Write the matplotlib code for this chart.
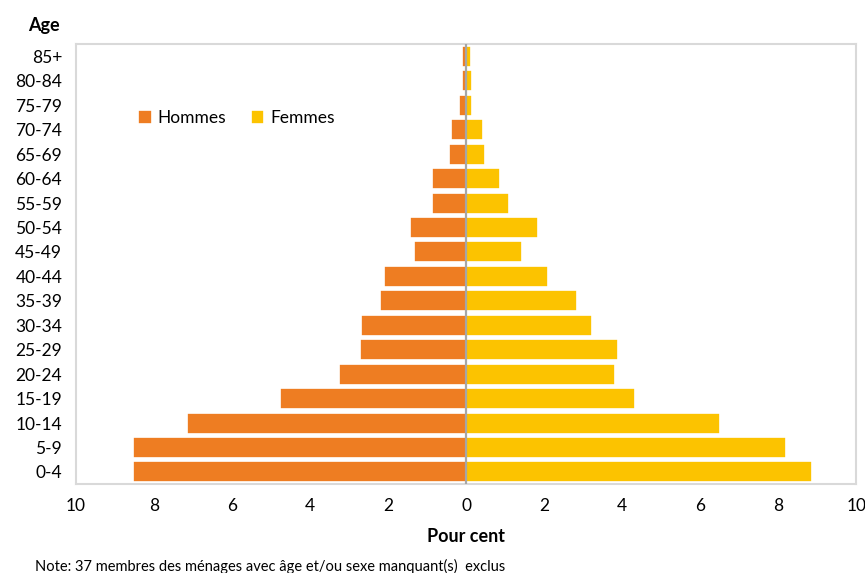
import matplotlib
matplotlib.use("Agg")
import matplotlib.pyplot as plt
import numpy as np

plt.rcParams['font.family'] = ['Lato', 'DejaVu Sans']

age_groups = ["0-4", "5-9", "10-14", "15-19", "20-24", "25-29", "30-34", "35-39",
              "40-44", "45-49", "50-54", "55-59", "60-64", "65-69", "70-74",
              "75-79", "80-84", "85+"]
hommes = [8.55, 8.55, 7.15, 4.78, 3.27, 2.72, 2.69, 2.21, 2.12, 1.35, 1.44,
          0.88, 0.88, 0.45, 0.40, 0.18, 0.10, 0.10]
femmes = [8.86, 8.20, 6.51, 4.33, 3.82, 3.89, 3.23, 2.85, 2.10, 1.44, 1.85,
          1.10, 0.87, 0.47, 0.43, 0.15, 0.15, 0.11]
x_ticks = [-10, -8, -6, -4, -2, 0, 2, 4, 6, 8, 10]
x_tick_labels = ["10", "8", "6", "4", "2", "0", "2", "4", "6", "8", "10"]

orange = "#EE7D22"
jaune = "#FCC300"

fig = plt.figure(figsize=(8.65, 5.73), dpi=100)
ax = fig.add_axes([0.088, 0.155, 0.902, 0.768])

y = np.arange(len(age_groups))
ax.barh(y, -np.array(hommes), height=0.86, color=orange, edgecolor="white",
        linewidth=1.2, label="Hommes", zorder=3)
ax.barh(y, femmes, height=0.86, color=jaune, edgecolor="white",
        linewidth=1.2, label="Femmes", zorder=3)
ax.axvline(0, color="#A6A6A6", linewidth=1.6, zorder=4)

ax.set_xlim(-10, 10)
ax.set_ylim(-0.5, 17.5)
ax.set_xticks(x_ticks)
ax.set_xticklabels(x_tick_labels)
ax.set_yticks(y)
ax.set_yticklabels(age_groups)
ax.tick_params(axis="both", length=0, labelsize=12.5, colors="#000000")
ax.tick_params(axis="y", pad=10)
ax.tick_params(axis="x", pad=10)

for s in ax.spines.values():
    s.set_color("#D9D9D9")
    s.set_linewidth(1.5)
    s.set_zorder(1)

ax.set_xlabel("Pour cent", fontsize=13, fontweight="bold", labelpad=10)
fig.text(0.033, 0.955, "Age", fontsize=13, fontweight="bold", ha="left", va="center")
fig.text(0.04, 0.012, "Note: 37 membres des ménages avec âge et/ou sexe manquant(s)  exclus",
         fontsize=10.5, ha="left", va="center")

ax.legend(loc="upper left", bbox_to_anchor=(0.07, 0.866), ncol=2, frameon=False,
          fontsize=12.5, handlelength=0.8, handleheight=0.8, handletextpad=0.35,
          columnspacing=1.4, borderaxespad=0)

fig.savefig("out.png", dpi=100)
